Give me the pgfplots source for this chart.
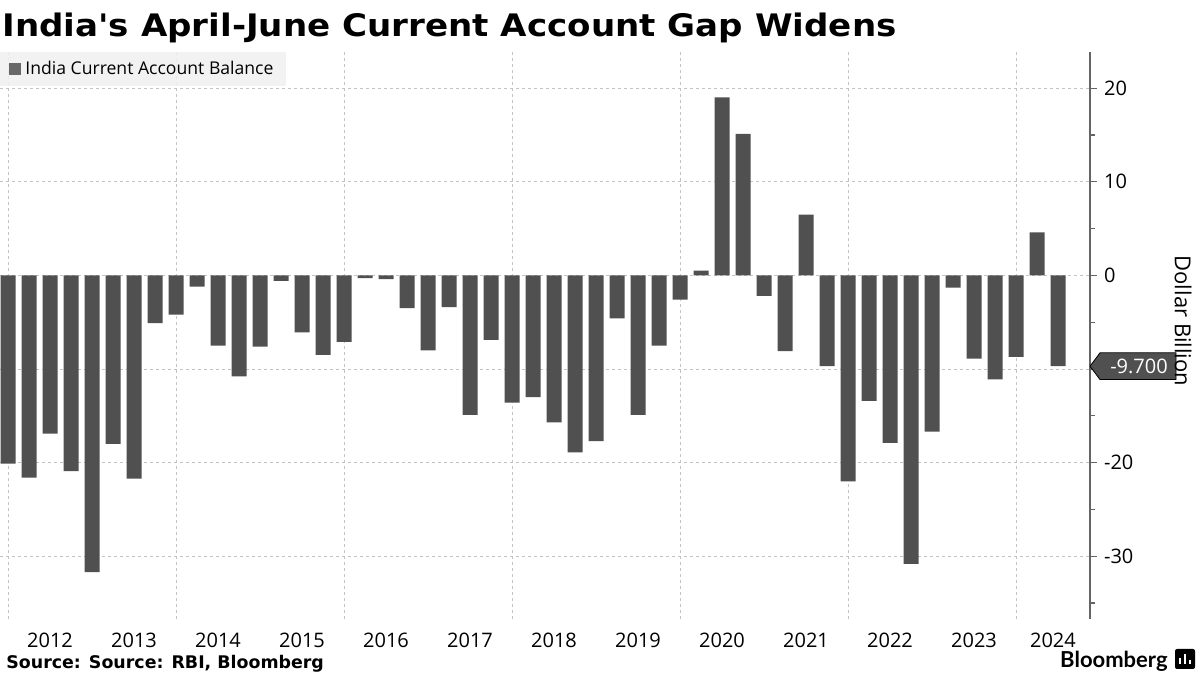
\documentclass[border=0pt]{standalone}
\usepackage{fontspec}
\usepackage{pgfplots}
\pgfplotsset{compat=1.18}
\setmainfont{Open Sans}
\newfontfamily\titlefont{DejaVu Sans}
\newfontfamily\logofont{Lato}
\definecolor{barcol}{RGB}{80,80,80}
\definecolor{gridcol}{RGB}{195,195,195}
\definecolor{legfill}{RGB}{240,240,240}
\definecolor{axcol}{RGB}{100,100,100}

\pgfplotstableread{
i v
0 -20.1
1 -21.6
2 -16.9
3 -20.9
4 -31.7
5 -18.0
6 -21.7
7 -5.1
8 -4.2
9 -1.2
10 -7.5
11 -10.8
12 -7.6
13 -0.6
14 -6.1
15 -8.5
16 -7.1
17 -0.3
18 -0.4
19 -3.5
20 -8.0
21 -3.4
22 -14.9
23 -6.9
24 -13.6
25 -13.0
26 -15.7
27 -18.9
28 -17.7
29 -4.6
30 -14.9
31 -7.5
32 -2.6
33 0.5
34 19.0
35 15.1
36 -2.2
37 -8.1
38 6.5
39 -9.7
40 -22.0
41 -13.4
42 -17.9
43 -30.8
44 -16.7
45 -1.3
46 -8.9
47 -11.1
48 -8.7
49 4.6
50 -9.7
}\cadata

\begin{document}
\begin{tikzpicture}
\useasboundingbox (0,0) rectangle (600bp,337.5bp);
\fill[white] (0,0) rectangle (600bp,337.5bp);
\node[anchor=base west, inner sep=0pt, font=\titlefont\bfseries\fontsize{15.5bp}{18bp}\selectfont] at (1bp,319bp) {\scalebox{1.1}[1]{India's April-June Current Account Gap Widens}};
\begin{axis}[
 at={(0bp,28bp)}, anchor=south west,
 scale only axis, width=545bp, height=283.7bp,
 xmin=-0.381, xmax=51.524, ymin=-36.7, ymax=23.9,
 clip=false,
 axis x line*=bottom, axis y line*=right,
 x axis line style={draw=none},
 y axis line style={draw=axcol, line width=0.8bp},
 ytick={-30,-20,-10,0,10,20},
 yticklabels={-30,-20,,0,10,20},
 minor ytick={-35,-25,-15,-5,5,15},
 ymajorgrids,
 grid style={gridcol, dash pattern=on 1.5bp off 1.5bp, line width=0.5bp},
 tick align=outside,
 major tick length=3.5bp, minor tick length=2.5bp,
 ytick style={draw=axcol, line width=0.6bp},
 xtick={2,6,10,14,18,22,26,30,34,38,42,46,49.76},
 xticklabels={2012,2013,2014,2015,2016,2017,2018,2019,2020,2021,2022,2023,2024},
 xtick style={draw=none},
 extra x ticks={0,8,16,24,32,40,48},
 extra x tick labels={},
 extra x tick style={grid=major, tick style={draw=none}},
 ticklabel style={font=\fontsize{10bp}{12bp}\selectfont},
 xticklabel style={anchor=base, yshift=-10.5bp},
 yticklabel style={anchor=west},
 legend style={at={(0,1)}, anchor=north west, draw=none, fill=legfill, fill opacity=0.85, text opacity=1,
   font=\fontsize{8.8bp}{10bp}\selectfont, inner xsep=4.5bp, inner ysep=2.5bp},
 legend image code/.code={\fill[barcol] (0bp,-3bp) rectangle (6bp,3bp);},
]
\addplot[ybar, bar width=7.5bp, fill=barcol, draw=none] table[x=i, y=v] {\cadata};
\addlegendentry{India Current Account Balance}
\fill[barcol, draw=black, line width=0.4bp] (axis cs:51.524,-9.7) -- ++(5bp,6.7bp) -- ++(38bp,0bp) -- ++(0bp,-13.4bp) -- ++(-38bp,0bp) -- cycle;
\node[text=white, font=\fontsize{10bp}{12bp}\selectfont, inner sep=0pt] at ([xshift=24.5bp]axis cs:51.524,-9.7) {-9.700};
\end{axis}
\node[rotate=-90, font=\fontsize{11bp}{13bp}\selectfont] at (591.5bp,177bp) {Dollar Billion};
\node[anchor=base west, font=\titlefont\bfseries\fontsize{8.7bp}{10bp}\selectfont, inner sep=0pt] at (3bp,3.5bp) {Source: Source: RBI, Bloomberg};
\node[anchor=base east, font=\logofont\bfseries\fontsize{11bp}{13bp}\selectfont, inner sep=0pt] at (584bp,4bp) {Bloomberg};
\fill[black, rounded corners=1bp] (587.5bp,3bp) rectangle (597.5bp,13bp);
\fill[white] (589.5bp,5.5bp) rectangle (590.7bp,8.5bp);
\fill[white] (591.9bp,5.5bp) rectangle (593.1bp,10.5bp);
\fill[white] (594.3bp,5.5bp) rectangle (595.5bp,7.5bp);
\end{tikzpicture}
\end{document}
